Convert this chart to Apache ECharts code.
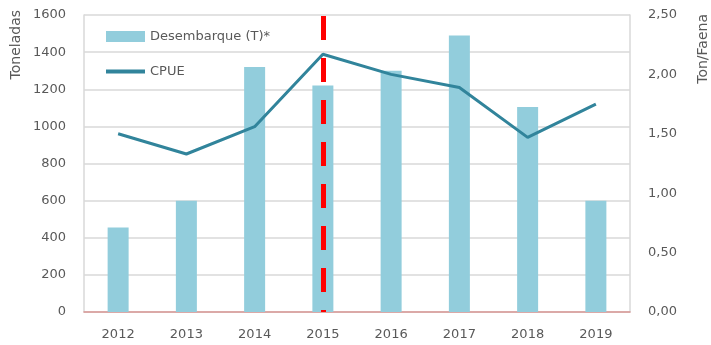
<!DOCTYPE html>
<html>
<head>
<meta charset="utf-8">
<script src="https://cdn.jsdelivr.net/npm/echarts@6/dist/echarts.min.js"></script>
<style>
  html, body { margin: 0; padding: 0; background: #ffffff; }
  #chart { width: 711px; height: 345px; }
</style>
</head>
<body>
<div id="chart"></div>
<script>
// Años de la serie
const years = ['2012', '2013', '2014', '2015', '2016', '2017', '2018', '2019'];
// Desembarque anual en toneladas
const desembarque = [455, 600, 1320, 1220, 1300, 1490, 1105, 600];
// Captura por unidad de esfuerzo (ton/faena)
const cpue = [1.50, 1.33, 1.56, 2.17, 2.00, 1.89, 1.47, 1.75];
// Año marcado con la línea de corte
const corte = '2015';

const gray = '#595959';
const font = 'DejaVu Sans';

const chart = echarts.init(document.getElementById('chart'), null, { renderer: 'canvas' });

chart.setOption({
  animation: false,
  backgroundColor: '#ffffff',
  textStyle: { fontFamily: font },
  grid: { left: 84, right: 81, top: 15, bottom: 33, containLabel: false },
  legend: {
    orient: 'vertical',
    left: 101,
    top: 25,
    itemWidth: 39,
    itemHeight: 11,
    itemGap: 22,
    textStyle: { color: gray, fontSize: 13, fontFamily: font },
    data: [
      { name: 'Desembarque (T)*', icon: 'rect' },
      { name: 'CPUE', icon: 'path://M0,0H40V4H0Z' }
    ]
  },
  xAxis: {
    type: 'category',
    data: years,
    axisLine: { show: true, lineStyle: { color: '#d99694', width: 1.5 } },
    axisTick: { show: false },
    axisLabel: { color: gray, fontSize: 13, margin: 16, fontFamily: font }
  },
  yAxis: [
    {
      type: 'value',
      min: 0, max: 1600, interval: 200,
      axisLine: { show: true, lineStyle: { color: '#d9d9d9', width: 1.5 } },
      axisTick: { show: false },
      axisLabel: {
        color: gray, fontSize: 13, margin: 18, fontFamily: font,
        formatter: v => String(v)
      },
      splitLine: { show: true, lineStyle: { color: '#d9d9d9', width: 1.5 } }
    },
    {
      type: 'value',
      min: 0, max: 2.5, interval: 0.5,
      axisLine: { show: true, lineStyle: { color: '#d9d9d9', width: 1.5 } },
      axisTick: { show: false },
      splitLine: { show: false },
      axisLabel: {
        color: gray, fontSize: 13, margin: 18, fontFamily: font,
        formatter: v => v.toFixed(2).replace('.', ',')
      }
    }
  ],
  series: [
    {
      name: 'Desembarque (T)*',
      type: 'bar',
      yAxisIndex: 0,
      data: desembarque,
      barWidth: 21,
      itemStyle: { color: '#92cddc' },
      z: 2
    },
    {
      name: 'CPUE',
      type: 'line',
      yAxisIndex: 1,
      data: cpue,
      symbol: 'none',
      lineStyle: { color: '#31849b', width: 3 },
      itemStyle: { color: '#31849b' },
      z: 4
    },
    {
      name: 'corte',
      type: 'line',
      data: [],
      z: 3,
      markLine: {
        silent: true,
        symbol: ['none', 'none'],
        label: { show: false },
        lineStyle: { color: '#ff0000', width: 5, type: [24, 18], dashOffset: 22 },
        data: [{ xAxis: corte }]
      }
    }
  ],
  graphic: [
    {
      type: 'text',
      left: 9, top: 10,
      rotation: Math.PI / 2,
      style: { text: 'Toneladas', fill: gray, font: '14px ' + font }
    },
    {
      type: 'text',
      right: 1, top: 14,
      rotation: Math.PI / 2,
      style: { text: 'Ton/Faena', fill: gray, font: '14px ' + font }
    }
  ]
});
</script>
</body>
</html>
